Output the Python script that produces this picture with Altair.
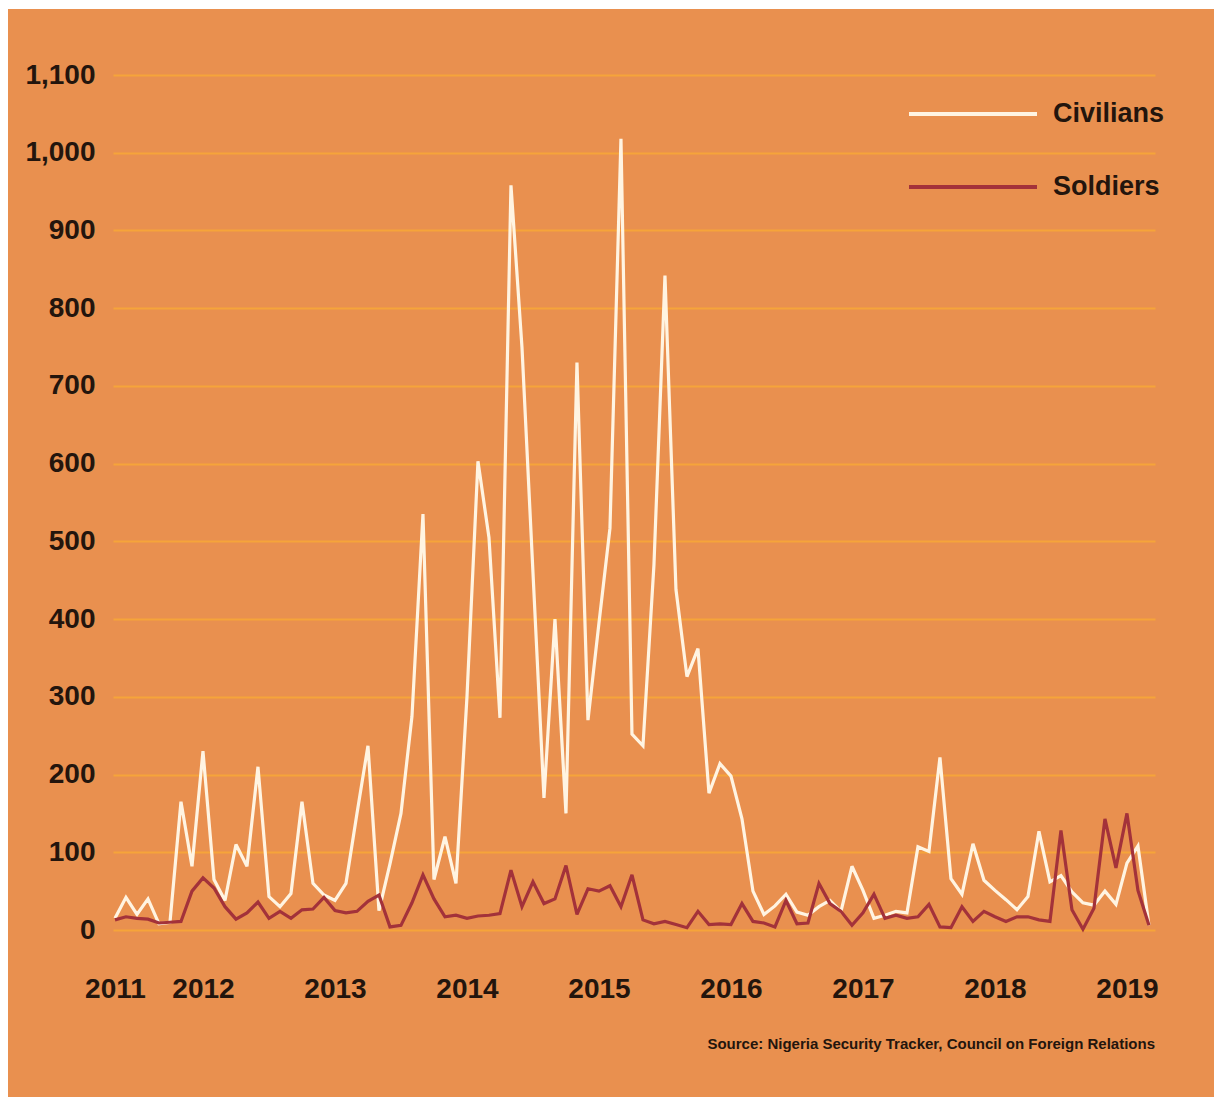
import altair as alt
import pandas as pd

# Monthly index, 0 = May 2011 ... 94 = March 2019
months = list(range(95))

civilians = [15, 42, 20, 40, 8, 10, 165, 82, 230, 65,
             38, 110, 82, 210, 43, 30, 47, 165, 60, 45,
             38, 60, 150, 237, 25, 85, 150, 275, 535, 65,
             120, 60, 300, 603, 505, 273, 958, 750, 460, 170,
             400, 150, 730, 270, 395, 517, 1018, 252, 237, 470,
             842, 438, 326, 362, 176, 214, 198, 143, 50, 20,
             31, 46, 23, 19, 30, 38, 24, 82, 51, 15,
             19, 24, 22, 107, 101, 222, 66, 46, 111, 64,
             51, 39, 26, 43, 127, 62, 70, 49, 35, 32,
             50, 33, 86, 108, 6]

soldiers = [13, 17, 15, 14, 9, 10, 11, 50, 67, 54,
            30, 14, 22, 36, 15, 24, 15, 26, 27, 42,
            25, 22, 24, 37, 45, 4, 6, 35, 71, 40,
            17, 19, 15, 18, 19, 21, 77, 30, 62, 34,
            40, 83, 20, 53, 50, 57, 30, 71, 13, 8,
            11, 7, 3, 24, 7, 8, 7, 34, 11, 9,
            4, 38, 8, 9, 60, 34, 24, 6, 22, 46,
            15, 19, 15, 17, 33, 4, 3, 30, 11, 24,
            17, 11, 17, 17, 13, 11, 128, 26, 1, 28,
            143, 80, 150, 51, 6]

series_names = ["Civilians", "Soldiers"]
series_colors = ["#FFF4E2", "#A3323A"]

year_labels = ["2011", "2012", "2013", "2014", "2015", "2016", "2017", "2018", "2019"]
year_positions = [0, 8, 20, 32, 44, 56, 68, 80, 92]
y_ticks = list(range(0, 1101, 100))

source_text = "Source: Nigeria Security Tracker, Council on Foreign Relations"

FONT = "Liberation Sans Narrow, Liberation Sans, Arial, sans-serif"
TEXT_COLOR = "#23150D"
ORANGE = "#E9904F"
GRID = "#F6A43A"

df = pd.DataFrame({
    "month": months * 2,
    "deaths": civilians + soldiers,
    "series": ["Civilians"] * len(civilians) + ["Soldiers"] * len(soldiers),
})

label_expr = "''"
for pos, lab in reversed(list(zip(year_positions, year_labels))):
    label_expr = f"datum.value == {pos} ? '{lab}' : ({label_expr})"

W, H = 1042, 855

lines = alt.Chart(df).mark_line(strokeWidth=3.2, strokeJoin="miter", strokeMiterLimit=3).encode(
    x=alt.X("month:Q",
            scale=alt.Scale(domain=[-0.18, 94.55], nice=False, zero=False),
            axis=alt.Axis(values=year_positions, labelExpr=label_expr, title=None,
                          grid=False, domain=False, ticks=False,
                          labelFont=FONT, labelFontSize=28, labelFontWeight="bold",
                          labelColor=TEXT_COLOR, labelPadding=45, labelBaseline="top",
                          labelFlush=False, labelOverlap=False)),
    y=alt.Y("deaths:Q",
            scale=alt.Scale(domain=[0, 1100], nice=False),
            axis=alt.Axis(values=y_ticks, format=",d", title=None,
                          grid=True, gridColor=GRID, gridWidth=2.2, gridOpacity=1,
                          domain=False, ticks=False,
                          labelFont=FONT, labelFontSize=28, labelFontWeight="bold",
                          labelColor=TEXT_COLOR, labelPadding=18)),
    color=alt.Color("series:N",
                    scale=alt.Scale(domain=series_names, range=series_colors),
                    legend=alt.Legend(title=None, orient="none", legendX=794, legendY=19,
                                      symbolType="stroke", symbolSize=16384,
                                      symbolStrokeWidth=4, clipHeight=40, rowPadding=33,
                                      labelFont=FONT, labelFontSize=27, labelFontWeight="bold",
                                      labelColor=TEXT_COLOR, labelOffset=14, padding=0)),
)

strip_df = pd.DataFrame({"k": [0]})
left_strip = alt.Chart(strip_df).mark_rect(color="white").encode(
    x=alt.value(-113), x2=alt.value(-105), y=alt.value(-75), y2=alt.value(H + 167))
top_strip = alt.Chart(strip_df).mark_rect(color="white").encode(
    x=alt.value(-113), x2=alt.value(W + 59), y=alt.value(-75), y2=alt.value(-66))

source = alt.Chart(pd.DataFrame({"t": [source_text]})).mark_text(
    align="right", baseline="middle", font=FONT, fontSize=15, fontWeight="bold",
    color=TEXT_COLOR).encode(text="t:N", x=alt.value(W), y=alt.value(1044 - 75))

chart = alt.layer(lines, source, left_strip, top_strip).properties(
    width=W, height=H,
    autosize=alt.AutoSizeParams(type="none"),
    padding={"left": 113, "top": 75, "right": 59, "bottom": 167},
    background=ORANGE,
).configure_view(stroke=None)

chart.save("out.html", embed_options={"renderer": "svg", "actions": False})
